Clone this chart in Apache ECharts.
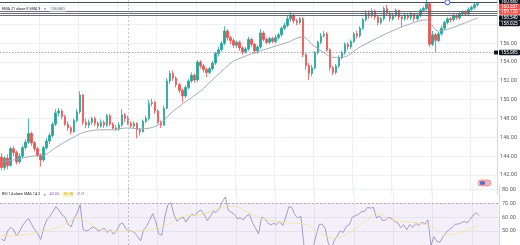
<!DOCTYPE html>
<html><head><meta charset="utf-8">
<script src="https://cdn.jsdelivr.net/npm/echarts@6/dist/echarts.min.js"></script>
<style>html,body{margin:0;padding:0;background:#fff}#c{width:520px;height:245px}</style>
</head><body><div id="c"></div>
<script>
// ---- data ----
// candles: [open, close, low, high]
const ohlc = [
[143.9,142.8,142.5,144.3],[142.8,143.8,142.5,144.0],[143.8,143.0,142.6,144.2],[143.0,144.8,142.9,145.0],
[144.8,144.4,144.0,145.1],[144.4,143.4,143.1,144.6],[143.4,144.0,143.2,144.3],[144.0,144.9,143.8,145.1],
[144.9,145.5,144.7,145.8],[145.5,146.4,145.3,148.0],[146.4,145.4,145.1,146.6],[145.4,144.8,144.5,145.6],
[144.8,144.1,143.9,145.0],[144.1,143.6,142.9,144.3],[143.6,144.9,143.4,145.1],[144.9,145.6,144.7,145.9],
[145.6,146.2,145.3,146.5],[146.2,147.4,146.0,147.6],[147.4,148.6,147.2,149.0],[148.6,148.8,148.2,149.1],
[148.8,148.2,147.9,149.0],[148.2,147.4,147.2,148.4],[147.4,147.0,146.7,147.7],[147.0,146.6,146.3,147.2],
[146.6,147.8,146.5,148.0],[147.8,148.7,147.6,149.0],[148.7,150.5,148.5,150.9],[150.5,147.6,147.3,150.6],
[147.6,147.3,147.0,148.0],[147.3,147.6,147.0,147.9],[147.6,148.0,147.3,148.2],[148.0,147.5,147.2,148.2],
[147.5,147.2,146.9,147.7],[147.2,147.6,147.0,147.9],[147.6,147.3,147.0,147.8],[147.3,148.3,147.1,148.5],
[148.3,147.4,147.2,148.5],[147.4,147.0,146.8,147.6],[147.0,146.9,146.7,147.3],[146.9,147.3,146.7,147.6],
[147.3,148.4,147.1,149.0],[148.4,148.0,147.6,148.6],[148.0,147.5,147.3,148.3],[147.5,147.2,147.0,147.7],
[147.2,147.5,147.0,147.7],[147.5,146.8,145.9,147.6],[146.8,146.6,146.2,147.0],[146.6,147.7,146.5,147.9],
[147.7,148.0,147.5,148.3],[148.0,149.6,147.8,150.0],[149.6,149.7,149.3,150.1],[149.7,148.8,148.5,149.9],
[148.8,147.6,147.4,149.0],[147.6,147.3,147.0,147.8],[147.3,149.1,147.2,149.4],[149.1,152.0,149.0,152.3],
[152.0,152.8,151.7,153.1],[152.8,152.3,152.0,153.1],[152.3,151.6,151.3,152.5],[151.6,151.0,150.7,151.8],
[151.0,150.4,149.7,151.2],[150.4,151.3,150.2,151.5],[151.3,152.0,151.1,152.2],[152.0,152.6,151.8,152.9],
[152.6,152.1,151.8,152.8],[152.1,154.0,151.9,154.2],[154.0,153.6,153.3,154.2],[153.6,153.2,152.9,153.8],
[153.2,152.9,152.4,153.4],[152.9,153.3,152.7,153.5],[153.3,153.9,153.1,154.1],[153.9,154.9,153.7,155.1],
[154.9,155.3,154.6,155.6],[155.3,156.0,155.1,156.2],[156.0,157.3,155.8,157.8],[157.3,156.6,156.3,157.5],
[156.6,156.3,155.9,156.8],[156.3,155.8,155.5,156.5],[155.8,156.1,155.5,156.3],[156.1,155.5,155.2,156.3],
[155.5,155.1,154.8,155.7],[155.1,155.4,154.9,155.6],[155.4,156.4,155.2,156.7],[156.4,155.9,155.6,156.6],
[155.9,155.2,154.9,156.0],[155.2,155.6,154.9,155.8],[155.6,157.1,155.4,157.5],[157.1,156.4,156.2,157.3],
[156.4,156.1,155.9,156.6],[156.1,156.5,155.9,156.7],[156.5,156.2,156.0,156.7],[156.2,156.6,156.0,156.9],
[156.6,156.9,156.4,157.1],[156.9,157.6,156.7,157.8],[157.6,157.9,157.4,158.2],[157.9,158.6,157.7,158.9],
[158.6,159.0,158.3,159.3],[159.0,158.4,158.1,159.1],[158.4,158.2,157.9,158.6],[158.2,158.6,158.0,158.8],
[158.6,154.8,154.5,158.8],[154.8,153.6,153.2,155.0],[153.6,152.8,152.1,153.9],[152.8,153.4,152.5,153.7],
[153.4,155.0,153.2,155.2],[155.0,156.1,154.8,156.3],[156.1,156.8,155.9,157.1],[156.8,157.0,156.6,157.3],
[157.0,155.3,155.1,157.2],[155.3,153.4,153.1,155.5],[153.4,152.9,152.6,153.6],[152.9,153.6,152.7,153.8],
[153.6,154.5,153.4,154.7],[154.5,155.0,154.3,155.2],[155.0,155.9,154.8,156.1],[155.9,155.6,155.3,156.1],
[155.6,156.2,155.4,156.4],[156.2,157.0,156.0,157.2],[157.0,156.8,156.5,157.3],[156.8,157.6,156.6,157.8],
[157.6,158.5,157.4,158.7],[158.5,159.2,158.3,159.5],[159.2,158.9,158.6,159.5],[158.9,159.4,158.7,159.7],
[159.4,158.8,158.5,159.6],[158.8,158.2,157.9,159.0],[158.2,158.6,158.0,158.8],[158.6,159.7,158.4,159.9],
[159.7,159.2,158.9,160.1],[159.2,158.6,158.3,159.4],[158.6,159.0,158.4,159.2],[159.0,159.5,158.8,159.7],
[159.5,158.8,158.5,159.6],[158.8,158.6,157.7,159.0],[158.6,159.0,158.4,159.2],[159.0,158.7,158.5,159.2],
[158.7,159.1,158.5,159.3],[159.1,158.6,158.3,159.2],[158.6,159.0,158.4,159.2],[159.0,159.5,158.8,159.7],
[159.5,159.7,159.3,159.9],[159.7,160.2,159.5,160.6],[160.2,155.9,155.6,160.3],[155.9,156.9,155.7,157.3],
[156.9,156.3,155.0,157.1],[156.3,157.0,156.1,157.2],[157.0,157.6,156.8,157.9],[157.6,158.2,157.4,158.4],
[158.2,158.6,158.0,158.8],[158.6,158.5,158.2,158.8],[158.5,158.9,158.3,159.1],[158.9,158.7,158.5,159.1],
[158.7,159.1,158.5,159.3],[159.1,159.3,158.9,159.5],[159.3,159.1,158.9,159.5],[159.1,159.6,158.9,159.8],
[159.6,159.8,159.4,160.0],[159.8,160.1,159.6,160.3],[160.1,160.2,159.9,160.4]
];
// EMA line, read at sampled candles: [candle index, value]
const emaPoints = [[0,143.4],[4,143.6],[10,144.0],[14,144.1],[17,144.7],[21,145.5],[25,146.2],[28,146.6],[33,146.8],
[36,146.8],[42,147.0],[46,146.9],[52,147.3],[57,148.8],[63,150.2],[66,150.9],[68,151.5],[74,153.3],[77,154.1],
[80,154.5],[83,154.9],[89,155.5],[95,156.1],[100,156.7],[103,155.9],[107,155.0],[110,154.5],[113,154.5],
[119,155.6],[125,156.6],[131,157.5],[136,158.1],[141,158.5],[142,158.3],[145,157.3],[150,157.7],[158,158.7]];
const rsi = [44.2,43,50,52.6,51,46.5,50,54,57,59,54.7,51,47.7,44,52.6,58.2,60.6,64,67.6,65,61.7,60,55,53,59,63,69,51,50,51,
53,52,50,51,52,49,51,47.7,50,54.5,56,52,50.5,50,49,46,43,51,53.5,58,62.5,57,48,47,60,69,70.5,62,57,59,
60,56.5,60,62,61,64,65,62,57.5,60.5,64,63.5,66,71,74.5,65,63.5,62,59,59.5,58,61,62,56,52,48,60,59,56,54.5,
55.5,54.7,57,54,60,67.5,67,61.7,59.5,60.5,40,36,34,38,46.5,54.7,55,52,42,37,43,46.5,50,49,53.5,54.5,60,61,62,64,
64,67,66.5,67,59.4,61,57.5,58,60,59,57,56,52.5,54.5,51,54.7,52.6,55.5,54,56.5,55,58,40,46,42.5,42,46,49,51,52.5,
55,55,56,57,56,58.5,61.5,63,61];
// RSI smoothing line, read at sampled candles
const rsiSmaPoints = [[0,46.5],[6,47],[16,51],[22,56],[25,59.6],[28,57],[33,51],[38,50],[44,50],[49,51],[55,54.7],
[59,60],[66,62],[76,68],[82,63],[88,58],[94,56],[101,54.7],[104,50],[110,45],[114,47.7],[121,58],[124,63],[129,58],
[137,56],[143,52.6],[146,47],[150,48],[153,50],[158,54]];
const drawnLevels = [160.36, 159.43, 159.19, 158.93];
const dottedLevel = 155.02;
const markerIndex = 148;
const breakIndex = 42;
const tagPrices = [160.44, 159.91, 159.33, 158.69, 158.10, 155.02];
const tagTexts = ['160.880', '160.207', '159.720', '158.540', '158.025', '155.085'];
const emaLegendValue = '156.880';
const rsiLegendValues = ['45.05', '55.78'];

// ---- build ----
const padCount = 6;
const n = ohlc.length;
const categories = [];
for (let i = 0; i < n + padCount; i++) categories.push(String(i));
const ema = new Array(n).fill(null);
emaPoints.forEach(([i, v]) => { ema[i] = v; });
const rsiSma = new Array(n).fill(null);
rsiSmaPoints.forEach(([i, v]) => { rsiSma[i] = v; });

const FONT = 'Roboto';
const chart = echarts.init(document.getElementById('c'));
const xBase = {
  type: 'category', data: categories, boundaryGap: true,
  axisLine: { show: false }, axisTick: { show: false }, axisLabel: { show: false },
  splitLine: { show: true, interval: (i) => i > 0 && i % 13 === 0, lineStyle: { color: '#eef0f5', width: 1 } }
};
chart.setOption({
  animation: false,
  backgroundColor: '#ffffff',
  grid: [
    { left: 0, right: 21, top: 0, height: 193.8 },
    { left: 0, right: 21, top: 186, height: 59 }
  ],
  xAxis: [Object.assign({ gridIndex: 0 }, xBase), Object.assign({ gridIndex: 1 }, xBase)],
  yAxis: [
    { gridIndex: 0, type: 'value', position: 'right', min: 140, max: 160.6, interval: 2,
      axisLine: { show: true, lineStyle: { color: '#d6d9e0', width: 1 } }, axisTick: { show: false },
      axisLabel: { fontSize: 5.5, color: '#5d606b', margin: 3, fontFamily: FONT,
        formatter: (v) => (v >= 141 && v <= 156.5) ? v.toFixed(2) : '' },
      splitLine: { show: true, showMinLine: false, showMaxLine: false, lineStyle: { color: '#eef0f5', width: 1 } } },
    { gridIndex: 1, type: 'value', position: 'right', min: 40, max: 82.4, interval: 10,
      axisLine: { show: true, lineStyle: { color: '#d6d9e0', width: 1 } }, axisTick: { show: false },
      axisLabel: { fontSize: 5.5, color: '#5d606b', margin: 3, fontFamily: FONT, showMinLabel: false, showMaxLabel: false,
        formatter: (v) => v.toFixed(2) },
      splitLine: { show: true, showMinLine: false, showMaxLine: false, lineStyle: { color: '#eef0f5', width: 1 } } }
  ],
  series: [
    { type: 'candlestick', xAxisIndex: 0, yAxisIndex: 0, data: ohlc, barWidth: 2,
      itemStyle: { color: '#26a69a', color0: '#ef5350', borderColor: '#26a69a', borderColor0: '#ef5350', borderWidth: 0.8 },
      markLine: { silent: true, symbol: ['none', 'none'], label: { show: false },
        data: [
          ...drawnLevels.map((v, k) => ({ yAxis: v, lineStyle: { color: k === 0 ? '#4a4d57' : '#5a5d66', width: k === 0 ? 1.1 : 0.9, type: 'solid' } })),
          { yAxis: dottedLevel, lineStyle: { color: '#9598a1', width: 0.8, type: [1.5, 1.5] } },
          { xAxis: String(breakIndex), lineStyle: { color: '#b2b5be', width: 0.8, type: [2, 2] } }
        ] } },
    { type: 'line', xAxisIndex: 0, yAxisIndex: 0, data: ema, connectNulls: true, smooth: 0.35, showSymbol: false,
      lineStyle: { color: '#9aa3b5', width: 0.9 },
      markPoint: { silent: true, symbol: 'circle', symbolSize: 5, label: { show: false },
        itemStyle: { color: '#ffffff', borderColor: '#2962ff', borderWidth: 1 },
        data: [{ coord: [String(markerIndex), drawnLevels[0]] }] } },
    { type: 'line', xAxisIndex: 1, yAxisIndex: 1, data: rsi, showSymbol: false, clip: true,
      lineStyle: { color: '#9484c4', width: 0.8 },
      markArea: { silent: true, itemStyle: { color: 'rgba(126,87,194,0.09)' }, data: [[{ yAxis: 70 }, { yAxis: 30 }]] },
      markLine: { silent: true, symbol: ['none', 'none'], label: { show: false },
        data: [
          { yAxis: 70, lineStyle: { color: '#a49ab8', width: 0.8, type: [2, 2] } },
          { xAxis: String(breakIndex), lineStyle: { color: '#b2b5be', width: 0.8, type: [2, 2] } }
        ] } },
    { type: 'line', xAxisIndex: 1, yAxisIndex: 1, data: rsiSma, connectNulls: true, smooth: 0.4, showSymbol: false, clip: true,
      lineStyle: { color: '#f3e3a8', width: 0.9 } }
  ]
});

// decorations: price tags, legends, event icon
const tagFills = ['#131722', '#ef5350', '#ef5350', '#131722', '#131722', '#131722'];
const g = [];
tagPrices.forEach((p, k) => {
  const y = chart.convertToPixel({ yAxisIndex: 0 }, p);
  g.push({ type: 'rect', shape: { x: 499, y: y - 2.8, width: 21, height: 5.6, r: 1 }, style: { fill: tagFills[k] }, z: 100 });
  g.push({ type: 'text', x: 501, y: y, style: { text: tagTexts[k], fontSize: 4.6, fill: '#ffffff', fontFamily: FONT, verticalAlign: 'middle' }, z: 101 });
});
g.push({ type: 'rect', shape: { x: 494, y: chart.convertToPixel({ yAxisIndex: 0 }, dottedLevel) - 2, width: 4, height: 4, r: 0.5 }, style: { fill: '#131722' }, z: 100 });
const legendRich = {
  a: { fontSize: 3.8, fill: '#131722', fontFamily: FONT },
  i: { fontSize: 4.5, fill: '#9c8fd6', fontFamily: FONT },
  v: { fontSize: 3.8, fill: '#7a7f8c', fontFamily: FONT, backgroundColor: '#f0f1f5', padding: [0.5, 1] },
  p: { fontSize: 3.8, fill: '#7e57c2', fontFamily: FONT },
  y: { fontSize: 3.8, fill: '#c9a227', fontFamily: FONT, backgroundColor: '#fbf3c8', padding: [0.5, 1] },
  e: { fontSize: 3.8, fill: '#5d606b', fontFamily: FONT }
};
g.push({ type: 'text', x: 2, y: 9, z: 100,
  style: { text: '{a|EMA 21 close 0 SMA 9} {i|●} {v|' + emaLegendValue + '}', rich: legendRich, verticalAlign: 'middle' } });
g.push({ type: 'text', x: 2, y: 194.5, z: 100,
  style: { text: '{a|RSI 14 close SMA 14 2} {i|●} {p|' + rsiLegendValues[0] + '} {y|' + rsiLegendValues[1] + '} {e|∅ ∅}', rich: legendRich, verticalAlign: 'middle' } });
// economic event pill
g.push({ type: 'rect', shape: { x: 478, y: 180, width: 13, height: 6, r: 3 }, style: { fill: '#f3b3b9', stroke: '#e57373', lineWidth: 0.6 }, z: 100 });
g.push({ type: 'rect', shape: { x: 480, y: 181.2, width: 5, height: 3.6, r: 1 }, style: { fill: '#5c6bc0' }, z: 101 });
chart.setOption({ graphic: g });
</script>
</body></html>
